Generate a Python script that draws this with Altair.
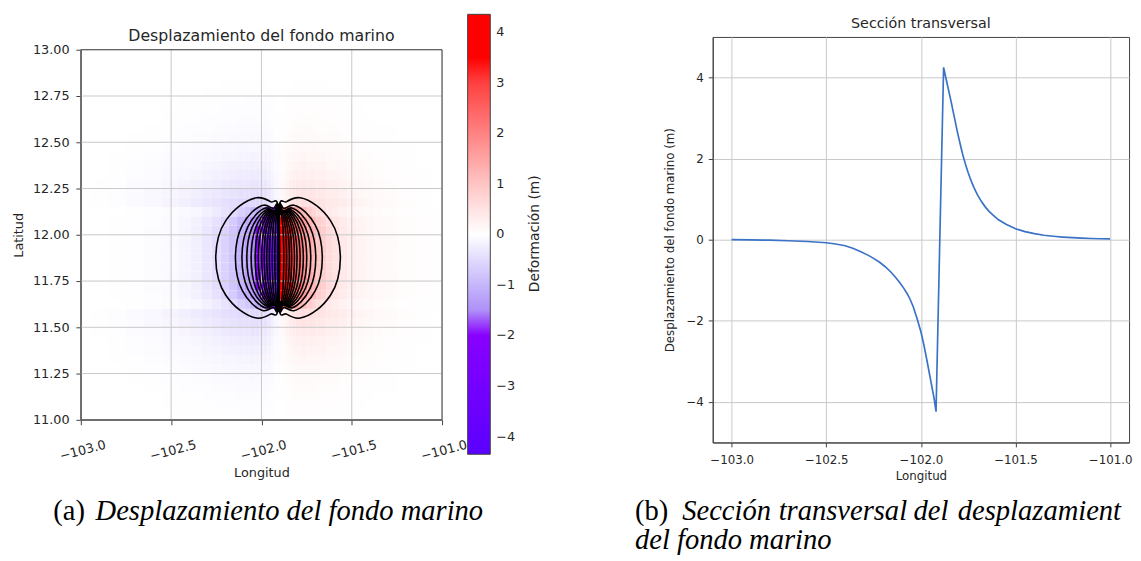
import altair as alt
import pandas as pd

# ---------------- data ----------------
# cross-section of sea-floor displacement (right panel), lon -> metres
prof_lon = [-103.0, -102.9, -102.8, -102.7, -102.6, -102.5, -102.45, -102.40, -102.36,
            -102.32, -102.28, -102.25, -102.22, -102.19, -102.16, -102.13, -102.11,
            -102.09, -102.07, -102.056, -102.04, -102.02, -102.00, -101.984, -101.97,
            -101.957, -101.945, -101.93, -101.92,
            -101.88, -101.87, -101.86, -101.85, -101.84, -101.83, -101.82, -101.81,
            -101.80, -101.79, -101.78, -101.77, -101.76, -101.75, -101.74, -101.73,
            -101.72, -101.71, -101.70, -101.68, -101.66, -101.64, -101.62, -101.59,
            -101.55, -101.50, -101.45, -101.40, -101.35, -101.30, -101.25, -101.20,
            -101.15, -101.10, -101.05, -101.00]
prof_val = [0.0, -0.005, -0.012, -0.025, -0.045, -0.075, -0.105, -0.15, -0.21,
            -0.29, -0.38, -0.46, -0.55, -0.66, -0.79, -0.95, -1.07,
            -1.20, -1.35, -1.48, -1.66, -1.95, -2.27, -2.60, -2.93,
            -3.25, -3.55, -3.92, -4.24,
            4.25, 4.03, 3.82, 3.61, 3.40, 3.17, 2.95, 2.72,
            2.51, 2.31, 2.12, 1.95, 1.79, 1.65, 1.52, 1.40,
            1.29, 1.19, 1.10, 0.94, 0.81, 0.70, 0.61, 0.49,
            0.38, 0.27, 0.20, 0.15, 0.11, 0.085, 0.065, 0.05,
            0.038, 0.03, 0.024, 0.02]

# map (left panel): column centres, value along the fault centre line, and faint halo
map_lon = [-103.0, -102.9, -102.8, -102.7, -102.6, -102.5, -102.42, -102.36, -102.3,
           -102.25, -102.2, -102.16, -102.11, -102.08, -102.05, -102.02, -102.0,
           -101.98, -101.955, -101.935, -101.92, -101.88, -101.86, -101.84, -101.82,
           -101.80, -101.78, -101.76, -101.73, -101.71, -101.68, -101.66, -101.62,
           -101.59, -101.55, -101.50, -101.45, -101.40, -101.35, -101.30, -101.2,
           -101.1, -101.0]
map_core = [0.0, -0.005, -0.012, -0.025, -0.045, -0.075, -0.13, -0.21, -0.33,
            -0.46, -0.62, -0.79, -1.07, -1.27, -1.55, -1.95, -2.27,
            -2.70, -3.30, -3.80, -4.24, 4.25, 3.82, 3.40, 2.95,
            2.51, 2.12, 1.79, 1.40, 1.19, 0.94, 0.81, 0.61,
            0.49, 0.38, 0.27, 0.20, 0.15, 0.11, 0.085, 0.05,
            0.03, 0.02]
map_halo = [0.0, -0.015, -0.03, -0.06, -0.09, -0.135, -0.18, -0.225, -0.27,
            -0.315, -0.36, -0.39, -0.42, -0.435, -0.45, -0.45, -0.435,
            -0.405, -0.33, -0.225, -0.12, 0.12, 0.225, 0.33, 0.39,
            0.435, 0.45, 0.45, 0.435, 0.42, 0.39, 0.375, 0.33,
            0.30, 0.255, 0.195, 0.15, 0.12, 0.09, 0.068, 0.038,
            0.018, 0.008]

# latitude rows of the map (centres); weight of the core profile and of the halo
lat_rows = [11.025, 11.075, 11.125, 11.175, 11.225, 11.275, 11.325, 11.375, 11.425, 11.475,
            11.525, 11.575, 11.625, 11.675, 11.725, 11.775, 11.825, 11.875, 11.925, 11.975,
            12.025, 12.075, 12.125, 12.175, 12.225, 12.275, 12.325, 12.375, 12.425, 12.475,
            12.525, 12.575, 12.625, 12.675, 12.725, 12.775, 12.825, 12.875, 12.925, 12.975]
core_gain = [0, 0, 0, 0, 0, 0, 0, 0, 0, 0,
             0, 0, 0.6, 0.9, 1, 1, 1, 1, 1, 1,
             1, 0.9, 0.6, 0, 0, 0, 0, 0, 0, 0,
             0, 0, 0, 0, 0, 0, 0, 0, 0, 0]
halo_gain = [0.06, 0.08, 0.11, 0.15, 0.2, 0.27, 0.36, 0.48, 0.62, 0.8,
             1.0, 1.2, 0, 0, 0, 0, 0, 0, 0, 0,
             0, 0, 0, 1.2, 1.0, 0.8, 0.62, 0.48, 0.36, 0.27,
             0.2, 0.15, 0.11, 0.08, 0.06, 0.04, 0.03, 0.02, 0.015, 0.01]
row_h = 0.05

# contour loops: fault trace (pinch) and the far longitude / half height of each loop
pinch_lon = -101.905
pinch_half = 0.253
centre_lat = 11.875
left_far = [-102.253, -102.144, -102.108, -102.081, -102.057, -102.035, -102.017,
            -101.999, -101.985, -101.970, -101.956, -101.941, -101.926]
right_far = [-101.563, -101.663, -101.699, -101.727, -101.749, -101.768, -101.786,
             -101.803, -101.817, -101.832, -101.846, -101.861, -101.876]
loop_half = [0.325, 0.285, 0.270, 0.262, 0.258, 0.256, 0.255, 0.254, 0.254, 0.253,
             0.253, 0.253, 0.253]
# loop outline (fraction of width, fraction of height)
shape_u = [0.0, 0.13, 0.35, 0.62, 0.84, 0.957, 1.0, 0.957, 0.84, 0.62, 0.35, 0.13, 0.0]
shape_v = [None, 0.935, 1.0, 0.865, 0.62, 0.35, 0.0, -0.35, -0.62, -0.865, -1.0, -0.935, None]

# colour bar
cbar_stops = [-4.35, -1.9, -1.89, -1.0, 0.0, 1.0, 2.0, 3.09, 3.1, 4.35]
cbar_cols = ["#5a00ff", "#8a00ff", "#9d72f6", "#c5b6fb", "#ffffff", "#ffc4c4",
             "#ff8282", "#ff3a3a", "#ff0000", "#ff0000"]
cbar_ticks = [-4, -3, -2, -1, 0, 1, 2, 3, 4]

lon_ticks = [-103.0, -102.5, -102.0, -101.5, -101.0]
lat_ticks = [11.0, 11.25, 11.5, 11.75, 12.0, 12.25, 12.5, 12.75, 13.0]
y2_ticks = [-4, -2, 0, 2, 4]

# ---------------- tables ----------------
edges = [map_lon[0]] + [(a + b) / 2 for a, b in zip(map_lon[:-1], map_lon[1:])] + [map_lon[-1]]
cells = []
for i, (cv, hv) in enumerate(zip(map_core, map_halo)):
    for lat, cg, hg in zip(lat_rows, core_gain, halo_gain):
        val = cv * cg + hv * hg
        if abs(val) >= 0.01:
            cells.append({"x0": edges[i], "x1": edges[i + 1],
                          "y0": lat - row_h / 2, "y1": lat + row_h / 2, "v": val})
cells = pd.DataFrame(cells)

pts = []
lid = 0
for fars in (left_far, right_far):
    for far, h in zip(fars, loop_half):
        for k, (u, vv) in enumerate(zip(shape_u, shape_v)):
            lon = pinch_lon + u * (far - pinch_lon)
            if vv is None:
                lat = centre_lat + (pinch_half if k == 0 else -pinch_half)
            else:
                lat = centre_lat + vv * h
            pts.append({"loop": lid, "k": k, "lon": lon, "lat": lat})
        lid += 1
loops = pd.DataFrame(pts)
prof = pd.DataFrame({"lon": prof_lon, "val": prof_val})
frame_df = pd.DataFrame({"x0": [-103.0], "x1": [-101.0], "y0": [11.0], "y1": [13.0]})
vgrid = pd.DataFrame({"x": lon_ticks})
hgrid = pd.DataFrame({"y": lat_ticks})

FONT = "DejaVu Sans"
SERIF = "Liberation Serif"
TXT = "#262626"
FRAME = "#404040"
GRID = "#c8c8c8"

# ---------------- left panel ----------------
W1, H1, TOP1 = 367, 376, 13
xs1 = alt.Scale(domain=[-103, -101], nice=False, zero=False)
ys1 = alt.Scale(domain=[11, 13], nice=False, zero=False, range=[H1 + TOP1, TOP1])
cscale = alt.Scale(domain=cbar_stops, range=cbar_cols, interpolate="rgb")

heat = alt.Chart(cells).mark_rect().encode(
    x=alt.X("x0:Q", scale=xs1, title="Longitud",
            axis=alt.Axis(values=lon_ticks, format=".1f", labelAngle=345, labelAlign="center",
                          labelBaseline="top", labelPadding=20, tickSize=5, labelFontSize=13,
                          titleFontSize=13, titlePadding=4, grid=False)),
    x2="x1:Q",
    y=alt.Y("y0:Q", scale=ys1, title="Latitud",
            axis=alt.Axis(values=lat_ticks, format=".2f", tickSize=5, labelPadding=7,
                          labelFontSize=13, titleFontSize=13, titlePadding=7, grid=False)),
    y2="y1:Q",
    color=alt.Color("v:Q", scale=cscale,
                    legend=alt.Legend(type="gradient", title=None, orient="none", legendX=393,
                                      legendY=-23, direction="vertical", gradientLength=447,
                                      gradientThickness=23, values=cbar_ticks, format="d",
                                      labelFontSize=13, labelFont=FONT,
                                      labelColor=TXT, labelOffset=6, gradientStrokeColor=FRAME,
                                      gradientStrokeWidth=1)),
)

vlines = alt.Chart(vgrid).mark_rule(color=GRID, strokeWidth=1).encode(
    x=alt.X("x:Q", scale=xs1), y=alt.datum(11.0, scale=ys1), y2=alt.datum(13.0))
hlines = alt.Chart(hgrid).mark_rule(color=GRID, strokeWidth=1).encode(
    y=alt.Y("y:Q", scale=ys1), x=alt.datum(-103.0, scale=xs1), x2=alt.datum(-101.0))

contours = alt.Chart(loops).mark_line(color="black", strokeWidth=1.6,
                                      interpolate="cardinal-closed").encode(
    x=alt.X("lon:Q", scale=xs1),
    y=alt.Y("lat:Q", scale=ys1),
    detail="loop:N",
    order="k:Q",
)

frame = alt.Chart(frame_df).mark_rect(filled=False, stroke=FRAME, strokeWidth=1).encode(
    x=alt.X("x0:Q", scale=xs1), x2="x1:Q", y=alt.Y("y0:Q", scale=ys1), y2="y1:Q")

title_l = alt.Chart(pd.DataFrame({"t": ["Desplazamiento del fondo marino"]})).mark_text(
    font=FONT, fontSize=16, align="center", baseline="middle", color=TXT
).encode(text="t:N", x=alt.value(W1 / 2), y=alt.value(-1))

cbar_title = alt.Chart(pd.DataFrame({"t": ["Deformación (m)"]})).mark_text(
    font=FONT, fontSize=14, angle=270, align="center", baseline="middle", color=TXT
).encode(text="t:N", x=alt.value(461), y=alt.value(200))

cap_a1 = alt.Chart(pd.DataFrame({"t": ["(a)"]})).mark_text(
    font=SERIF, fontSize=29, align="left", baseline="alphabetic", color="black"
).encode(text="t:N", x=alt.value(-28), y=alt.value(491))
cap_a2 = alt.Chart(pd.DataFrame({"t": ["Desplazamiento del fondo marino"]})).mark_text(
    font=SERIF, fontSize=29, fontStyle="italic", align="left",
    baseline="alphabetic", color="black"
).encode(text="t:N", x=alt.value(15), y=alt.value(491))

left = alt.layer(heat, vlines, hlines, contours, frame, title_l, cbar_title,
                 cap_a1, cap_a2).properties(
    width=W1, height=H1 + TOP1, view=alt.ViewBackground(stroke=None),
)

# ---------------- right panel ----------------
W2, H2 = 423, 412
xs2 = alt.Scale(domain=[-103.1, -100.9], nice=False, zero=False)
ys2 = alt.Scale(domain=[-5, 5], nice=False, zero=False)

line = alt.Chart(prof).mark_line(color="#3a72c6", strokeWidth=1.7).encode(
    x=alt.X("lon:Q", scale=xs2, title="Longitud",
            axis=alt.Axis(values=lon_ticks, format=".1f", tickSize=4.5, labelPadding=8,
                          labelFontSize=12, titleFontSize=12, titlePadding=5, gridColor=GRID)),
    y=alt.Y("val:Q", scale=ys2, title="Desplazamiento del fondo marino (m)",
            axis=alt.Axis(values=y2_ticks, format="d", tickSize=4.5, labelPadding=5,
                          labelFontSize=12, titleFontSize=12, titlePadding=10, gridColor=GRID)),
)

title_r = alt.Chart(pd.DataFrame({"t": ["Sección transversal"]})).mark_text(
    font=FONT, fontSize=14.5, align="center", baseline="middle", color=TXT
).encode(text="t:N", x=alt.value(W2 / 2), y=alt.value(-13))

words_b = pd.DataFrame({"t": ["Sección", "transversal", "del", "desplazamiento"],
                        "px": [-31, 67, 204, 249]})
cap_b1 = alt.Chart(pd.DataFrame({"t": ["(b)"]})).mark_text(
    font=SERIF, fontSize=29, align="left", baseline="alphabetic", color="black"
).encode(text="t:N", x=alt.value(-79), y=alt.value(491))
cap_b2 = alt.Chart(words_b).mark_text(
    font=SERIF, fontSize=29, fontStyle="italic", align="left",
    baseline="alphabetic", color="black", limit=176, ellipsis="\u200b"
).encode(text="t:N", x=alt.X("px:Q", scale=None), y=alt.value(491))
cap_b3 = alt.Chart(pd.DataFrame({"t": ["del fondo marino"]})).mark_text(
    font=SERIF, fontSize=29, fontStyle="italic", align="left",
    baseline="alphabetic", color="black"
).encode(text="t:N", x=alt.value(-79), y=alt.value(520))

right = alt.layer(line, title_r, cap_b1, cap_b2, cap_b3).properties(
    width=W2, height=H2,
    view=alt.ViewBackground(stroke=FRAME, strokeWidth=1),
)

chart = alt.hconcat(left, right, spacing=94).properties(
    padding={"left": 4, "top": 2, "right": 0, "bottom": 0}
).configure_axis(
    labelFont=FONT, titleFont=FONT, labelColor=TXT, titleColor=TXT,
    titleFontWeight="normal", domainColor=FRAME,
    tickColor=FRAME, domainWidth=1, tickWidth=1,
).configure_scale(continuousPadding=0)

chart.save("out.html", embed_options={"renderer": "svg", "actions": False})
